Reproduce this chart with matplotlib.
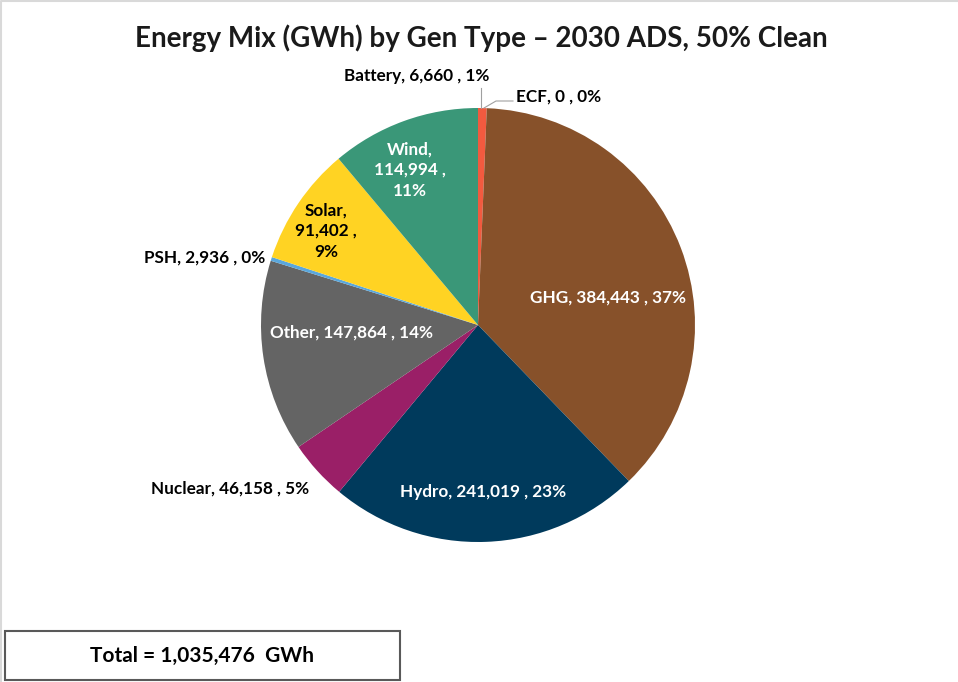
import matplotlib
matplotlib.use("Agg")
import matplotlib.pyplot as plt
from matplotlib.patches import Rectangle

categories = ["Battery", "ECF", "GHG", "Hydro", "Nuclear", "Other", "PSH", "Solar", "Wind"]
values = [6660, 0, 384443, 241019, 46158, 147864, 2936, 91402, 114994]
percents = ["1%", "0%", "37%", "23%", "5%", "14%", "0%", "9%", "11%"]
colors = ["#F25A3F", "#E8E8E8", "#87512A", "#003A5C", "#9A1F67", "#646464", "#5AA7DC", "#FFD323", "#3A9778"]
title = "Energy Mix (GWh) by Gen Type – 2030 ADS, 50% Clean"
total_text = "Total = 1,035,476  GWh"

W, H = 958, 682
fig = plt.figure(figsize=(W / 100, H / 100), dpi=100)
ax = fig.add_axes([0, 0, 1, 1])
ax.set_xlim(0, W)
ax.set_ylim(0, H)
ax.set_aspect("equal")
ax.axis("off")

cx, cy, r = 478, H - 325, 217
wedges, _ = ax.pie(values, colors=colors, startangle=90, counterclock=False,
                   center=(cx, cy), radius=r, frame=True,
                   wedgeprops=dict(linewidth=0))
ax.set_xlim(0, W)
ax.set_ylim(0, H)
ax.axis("off")

FONT = "Lato"
def fmt(v):
    return f"{v:,}"

# label placements (pixel coords from top)
place = {
    "Battery": (417, 76, "center", "black"),
    "ECF": (516, 97, "left", "black"),
    "GHG": (608, 298, "center", "white"),
    "Hydro": (483, 492, "center", "white"),
    "Nuclear": (309, 489, "right", "black"),
    "Other": (352, 333, "center", "white"),
    "PSH": (265, 258, "right", "black"),
    "Solar": (326, 231, "center", "black"),
    "Wind": (410, 170, "center", "white"),
}
multiline = {"Solar", "Wind"}
for c, v, p in zip(categories, values, percents):
    x, y, ha, col = place[c]
    if c in multiline:
        txt = f"{c},\n{fmt(v)} ,\n{p}"
    else:
        txt = f"{c}, {fmt(v)} , {p}"
    ax.text(x, H - y, txt, ha=ha, va="center", color=col, fontsize=12.3,
            fontweight="bold", family=FONT, linespacing=1.36)

# leader lines
ax.plot([481, 481], [H - 108, H - 88], color="#A0A0A0", lw=0.8)
ax.plot([484, 496, 513], [H - 108, H - 101, H - 101], color="#A0A0A0", lw=0.8)

ax.text(W / 2 + 2, H - 38, title, ha="center", va="center", fontsize=20,
        fontweight="bold", family=FONT, color="#1a1a1a")

# chart border
ax.plot([1, 1, W], [0, H - 1, H - 1], color="#D9D9D9", lw=1.5)

# total box
ax.add_patch(Rectangle((5, H - 680), 395, 49, fill=False, edgecolor="#595959", lw=1.5))
ax.text(202, H - 656, total_text, ha="center", va="center", fontsize=15,
        fontweight="bold", family=FONT, color="black")

fig.savefig("out.png", dpi=100, facecolor="white")
